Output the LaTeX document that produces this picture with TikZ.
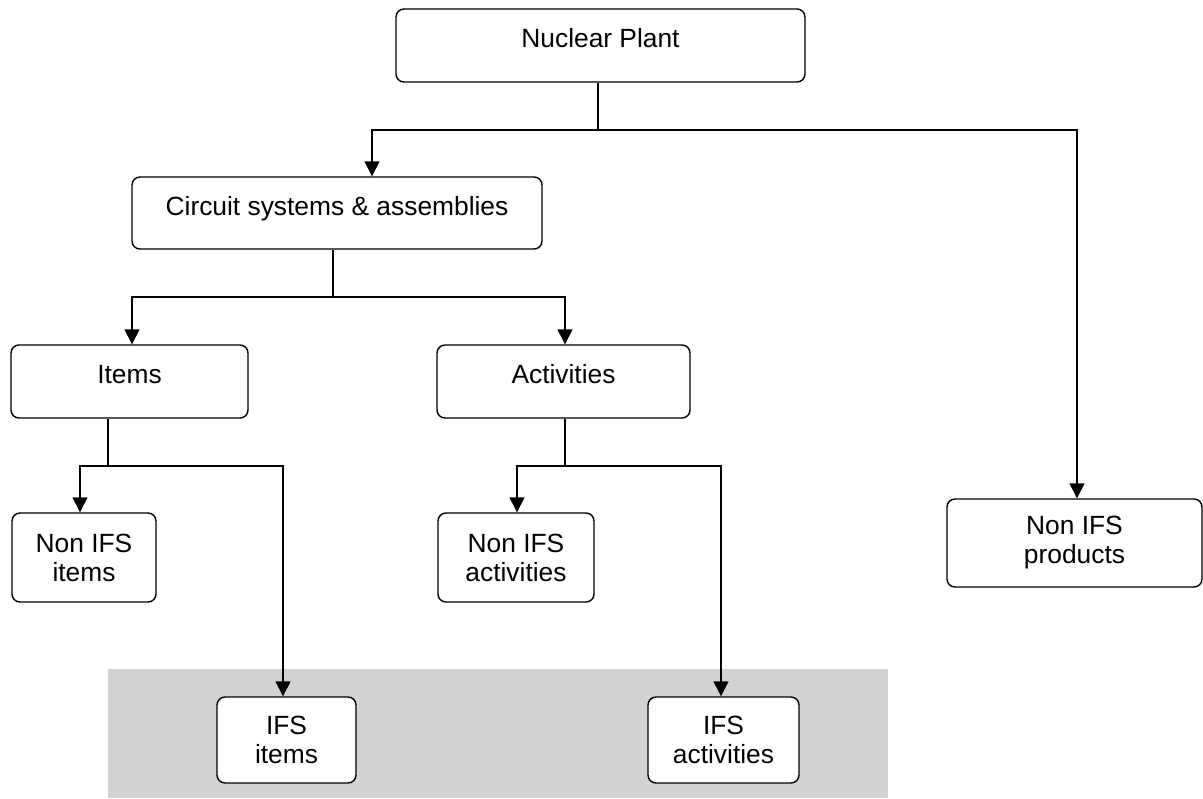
\documentclass[tikz,border=0pt]{standalone}
\usepackage{fontspec}
\setmainfont{Liberation Sans}
\usetikzlibrary{arrows.meta}

\tikzset{
  box/.style = {draw, line width=0.8pt, rounded corners=0.16cm, fill=white,
                align=center, inner sep=0pt, font=\fontsize{15}{16.5}\selectfont},
  wh/.style 2 args = {minimum width=#1*0.02cm, minimum height=#2*0.02cm},
  uptext/.style = {text height=0.38cm, text depth=0.3cm},
  link/.style = {line width=0.8pt},
  arr/.style = {line width=0.8pt, -{Triangle[length=0.3cm,width=0.3cm]}}
}

\begin{document}
\begin{tikzpicture}[x=0.02cm, y=-0.02cm]
        \useasboundingbox (0,0) rectangle (1203,798);

        % shaded IFS band
        \fill [gray!35] (108,669) rectangle (888,798);

        \node [box, wh={409}{73}, uptext] (plant)      at (600.5,45.5) {Nuclear Plant};
        \node [box, wh={410}{72}, uptext] (circuit)    at (337,213)    {Circuit systems \& assemblies};
        \node [box, wh={237}{73}, uptext] (items)      at (129.5,381.5) {Items};
        \node [box, wh={253}{73}, uptext] (activities) at (563.5,381.5) {Activities};

        \node [box, wh={144}{89}] (nonitems) at (84,557.5)   {Non IFS\\items};
        \node [box, wh={156}{89}] (nonact)   at (516,557.5)  {Non IFS\\activities};
        \node [box, wh={255}{88}] (nonprod)  at (1074.5,543) {Non IFS\\products};

        \node [box, wh={139}{86}] (ifsitems) at (286.5,740) {IFS\\items};
        \node [box, wh={151}{86}] (ifsact)   at (723.5,740) {IFS\\activities};

        % junctions
        \coordinate (j1) at (598,130);
        \coordinate (k1) at (372,130);
        \coordinate (k2) at (1077,130);

        \coordinate (j2) at (333,297);
        \coordinate (k3) at (132,297);
        \coordinate (k4) at (565,297);

        \coordinate (j3) at (108,466);
        \coordinate (k5) at (80,466);
        \coordinate (k6) at (283,466);

        \coordinate (j4) at (565,466);
        \coordinate (k7) at (517,466);
        \coordinate (k8) at (721,466);

        \draw [link] (plant.south -| j1) -- (j1);
        \draw [arr] (j1) -- (k1) -- (k1 |- circuit.north);
        \draw [arr] (j1) -- (k2) -- (k2 |- nonprod.north);

        \draw [link] (circuit.south -| j2) -- (j2);
        \draw [arr] (j2) -- (k3) -- (k3 |- items.north);
        \draw [arr] (j2) -- (k4) -- (k4 |- activities.north);

        \draw [link] (items.south -| j3) -- (j3);
        \draw [arr] (j3) -- (k5) -- (k5 |- nonitems.north);
        \draw [arr] (j3) -- (k6) -- (k6 |- ifsitems.north);

        \draw [link] (activities.south -| j4) -- (j4);
        \draw [arr] (j4) -- (k7) -- (k7 |- nonact.north);
        \draw [arr] (j4) -- (k8) -- (k8 |- ifsact.north);
\end{tikzpicture}
\end{document}
